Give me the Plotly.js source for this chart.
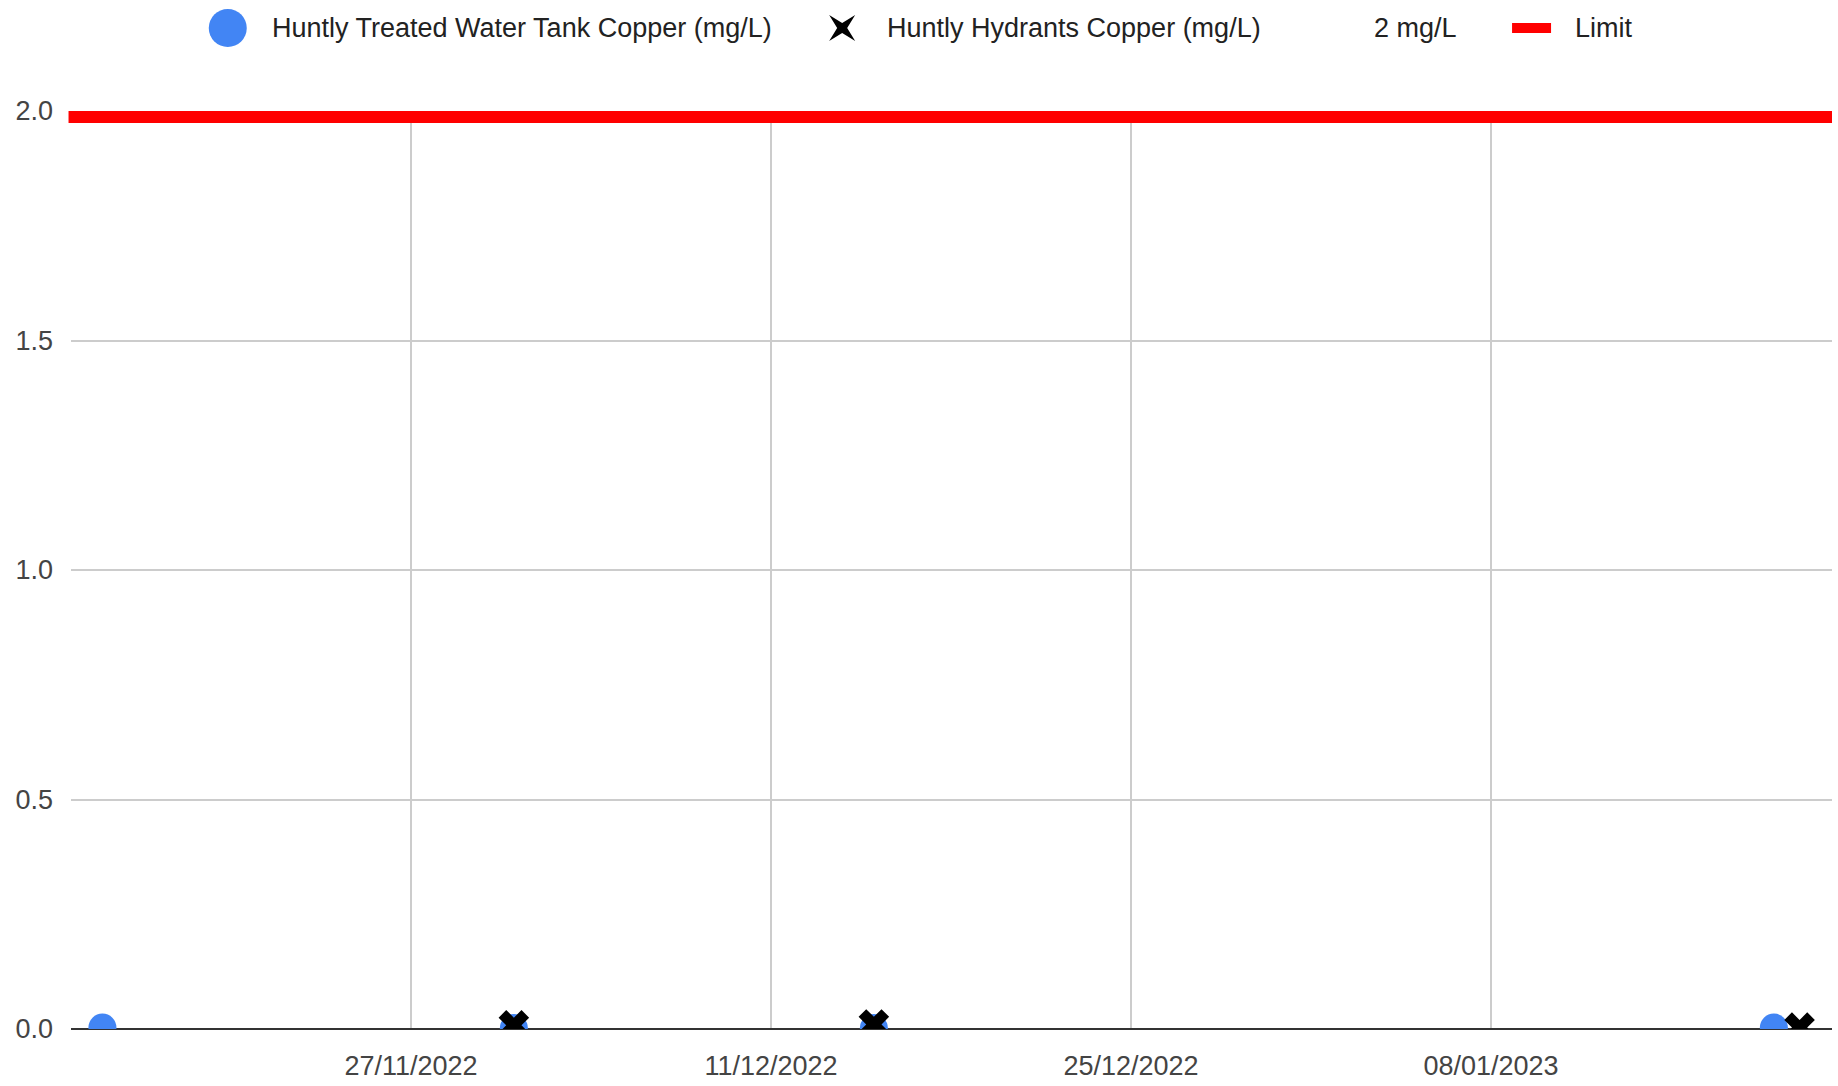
<!DOCTYPE html>
<html>
<head>
<meta charset="utf-8">
<script src="https://cdn.plot.ly/plotly-3.0.1.min.js"></script>
<style>
  html, body { margin: 0; padding: 0; background: #fff; }
  #chart { width: 1838px; height: 1086px; }
</style>
</head>
<body>
<div id="chart"></div>
<script>
// ---- data ----
var tankDates = ['2022-11-15', '2022-12-01', '2022-12-15', '2023-01-19'];
var tankCopper = [0.003, 0.002, 0.002, 0.003];
var hydrantDates = ['2022-12-01', '2022-12-15', '2023-01-20'];
var hydrantCopper = [0.008, 0.010, 0.003];
var limitValue = 2;
var seriesNames = ['Huntly Treated Water Tank Copper (mg/L)', 'Huntly Hydrants Copper (mg/L)', '2 mg/L', 'Limit'];
var xTickStart = '2022-11-27';
var xRange = ['2022-11-13 18:40', '2023-01-21 06:15'];
var yRange = [0, 2];

var FONT = '"Liberation Sans", Arial, sans-serif';
var W = 1838, H = 1086;
var M = { l: 70.7, r: 6, t: 111, b: 57 };
var plotW = W - M.l - M.r, plotH = H - M.t - M.b;
function px2x(px) { return (px - M.l) / plotW; }
function py2y(py) { return (H - M.b - py) / plotH; }

var traces = [
  {
    type: 'scatter', mode: 'markers', name: seriesNames[0],
    x: tankDates, y: tankCopper, showlegend: false,
    marker: { symbol: 'circle', size: 28, color: '#4285F4', line: { width: 0 } },
    cliponaxis: true
  },
  {
    type: 'scatter', mode: 'markers', name: seriesNames[1],
    x: hydrantDates, y: hydrantCopper, showlegend: false,
    marker: { symbol: 'x', size: 27, color: '#000000', line: { width: 0 } },
    cliponaxis: true
  }
];

// legend (symbols as pixel-sized shapes, names as text)
var legendY = py2y(28);
var legendItems = [
  { name: seriesNames[0], symX: 227.5, textX: 270 },
  { name: seriesNames[1], symX: 842, textX: 885 },
  { name: seriesNames[2], symX: null, textX: 1372 },
  { name: seriesNames[3], symX: 1531.5, textX: 1573 }
];
var annotations = legendItems.map(function (it) {
  return {
    xref: 'paper', yref: 'paper', x: px2x(it.textX), y: legendY,
    xanchor: 'left', yanchor: 'middle', showarrow: false,
    text: it.name, font: { family: FONT, size: 27, color: '#222222' }
  };
});

var shapes = [
  {
    // limit line, anchored at the limit value on the y scale
    type: 'rect', xref: 'paper', yref: 'y',
    ysizemode: 'pixel', yanchor: limitValue,
    x0: -0.0014, x1: 1, y0: -12, y1: 2,
    fillcolor: '#ff0000', line: { width: 0 }, layer: 'above'
  },
  {
    type: 'circle', xref: 'paper', yref: 'paper',
    xsizemode: 'pixel', ysizemode: 'pixel',
    xanchor: px2x(legendItems[0].symX), yanchor: legendY,
    x0: -19, x1: 19, y0: -19, y1: 19,
    fillcolor: '#4285F4', line: { width: 0 }
  },
  {
    type: 'path', xref: 'paper', yref: 'paper',
    xsizemode: 'pixel', ysizemode: 'pixel',
    xanchor: px2x(legendItems[1].symX), yanchor: legendY,
    path: 'M-13,-13 L0,-5 L13,-13 L5,0 L13,13 L0,5 L-13,13 L-5,0 Z',
    fillcolor: '#000000', line: { width: 0 }
  },
  {
    type: 'rect', xref: 'paper', yref: 'paper',
    xsizemode: 'pixel', ysizemode: 'pixel',
    xanchor: px2x(legendItems[3].symX), yanchor: legendY,
    x0: -19.5, x1: 19.5, y0: -5, y1: 5,
    fillcolor: '#ff0000', line: { width: 0 }
  }
];

var layout = {
  width: W, height: H,
  margin: { l: M.l, r: M.r, t: M.t, b: M.b, pad: 0 },
  paper_bgcolor: '#ffffff', plot_bgcolor: '#ffffff',
  font: { family: FONT, size: 27, color: '#444444' },
  showlegend: false,
  xaxis: {
    type: 'date', range: xRange,
    tick0: xTickStart, dtick: 14 * 24 * 3600 * 1000,
    tickformat: '%d/%m/%Y',
    showgrid: true, gridcolor: '#cccccc', gridwidth: 2,
    zeroline: false, showline: false, ticks: '',
    tickfont: { family: FONT, size: 27, color: '#444444' },
    ticklabelstandoff: 18
  },
  yaxis: {
    range: yRange, tick0: 0, dtick: 0.5, tickformat: '.1f',
    showgrid: true, gridcolor: '#cccccc', gridwidth: 2,
    zeroline: true, zerolinecolor: '#333333', zerolinewidth: 2,
    showline: false, ticks: '',
    tickfont: { family: FONT, size: 27, color: '#444444' },
    ticklabelstandoff: 17
  },
  annotations: annotations,
  shapes: shapes
};

Plotly.newPlot('chart', traces, layout, { displayModeBar: false, staticPlot: true });
</script>
</body>
</html>
